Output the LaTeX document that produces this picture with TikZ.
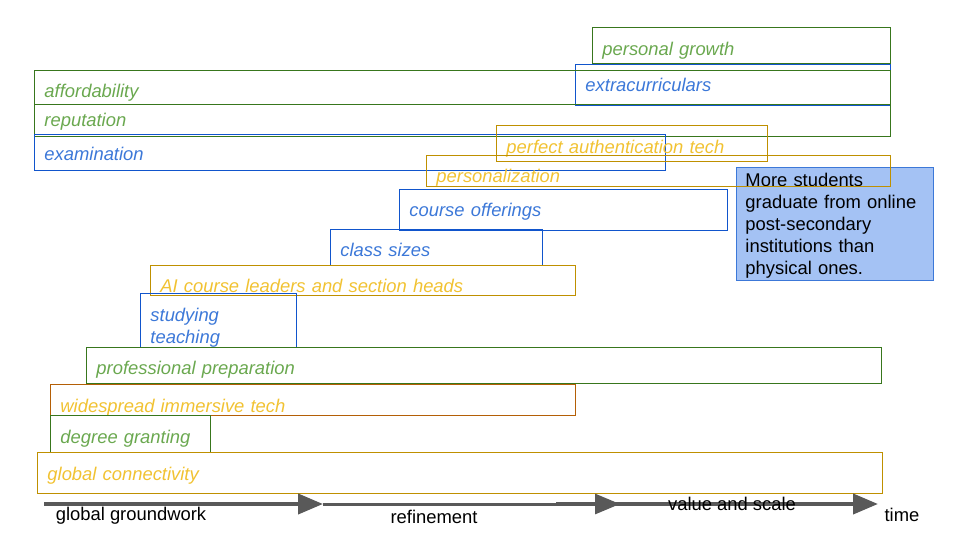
\documentclass[tikz,border=0pt]{standalone}
\usepackage{fontspec}
\setmainfont{Liberation Sans}
\usetikzlibrary{arrows.meta}

\definecolor{grnline}{HTML}{38761D}
\definecolor{grntext}{HTML}{6AA84F}
\definecolor{bluline}{HTML}{1155CC}
\definecolor{blutext}{HTML}{3C78D8}
\definecolor{gldline}{HTML}{BF9000}
\definecolor{gldtext}{HTML}{F1C232}
\definecolor{brnline}{HTML}{B45F06}
\definecolor{notefill}{HTML}{A4C2F4}
\definecolor{arrowgray}{HTML}{595959}

\begin{document}
\begin{tikzpicture}[x=1pt, y=-1pt, >={Triangle[length=25pt,width=20pt]},
	bar/.style={draw, line width=0.9pt, rectangle, anchor=north west, inner xsep=10pt, inner ysep=0pt, text height=27pt, align=left, font=\fontsize{18.4}{22}\selectfont\itshape},
	greenbar/.style={bar, draw=grnline, text=grntext},
	bluebar/.style={bar, draw=bluline, text=blutext},
	goldbar/.style={bar, draw=gldline, text=gldtext},
	brownbar/.style={bar, draw=brnline, text=gldtext},
	note/.style={draw=blutext, fill=notefill, line width=0.9pt, anchor=north west, inner xsep=9pt, inner ysep=0pt, align=left, font=\fontsize{18.4}{22}\selectfont},
	timeline/.style={draw=arrowgray, line width=4pt},
	phase/.style={font=\fontsize{18.4}{20}\selectfont}]
	\useasboundingbox (0,0) rectangle (960,540);

	% Callout
	\node [note, text width=179pt, text height=19pt, text depth=94pt] (result) at (736,167)
		{More students\\graduate from online\\post-secondary\\institutions than\\physical ones.};

	% Bars {top to bottom}
	\node [greenbar, text height=28pt, text depth=8pt, text width=278pt] 	(growth) 	at (592,27) 	{personal growth};
	\node [bluebar, text depth=14pt, text width=295pt] 						(extra) 	at (575,64) 	{extracurriculars};
	\node [greenbar, text depth=7pt, text width=836pt] 						(afford) 	at (34,70) 		{affordability};
	\node [greenbar, text height=22pt, text depth=10pt, text width=836pt] 	(reput) 	at (34,104) 	{reputation};
	\node [bluebar, text height=26pt, text depth=10pt, text width=611pt] 	(exam) 		at (34,134) 	{examination};
	\node [goldbar, text height=28pt, text depth=8pt, text width=251pt] 	(auth) 		at (496,125) 	{perfect authentication tech};
	\node [goldbar, text depth=4pt, text width=444pt] 						(persona) 	at (426,155) 	{personalization};
	\node [bluebar, text depth=14pt, text width=308pt] 						(courses) 	at (399,189) 	{course offerings};
	\node [bluebar, text depth=9pt, text width=192pt] 						(classes) 	at (330,229) 	{class sizes};
	\node [goldbar, text depth=3pt, text width=405pt] 						(aileads) 	at (150,265) 	{AI course leaders and section heads};
	\node [bluebar, text height=28pt, text depth=26pt, text width=136pt] 	(study) 	at (140,293) 	{studying\\teaching};
	\node [greenbar, text depth=9pt, text width=775pt] 						(profprep) 	at (86,347) 	{professional preparation};
	\node [brownbar, text height=28pt, text depth=3pt, text width=505pt] 	(immerse) 	at (50,384) 	{widespread immersive tech};
	\node [greenbar, text height=28pt, text depth=9pt, text width=140pt] 	(degree) 	at (50,415) 	{degree granting};
	\node [goldbar, text height=28pt, text depth=13pt, text width=825pt] 	(connect) 	at (37,452) 	{global connectivity};

	% Time axis
	\coordinate (t0) at (44,504);
	\coordinate (t1) at (323,504);
	\coordinate (t2) at (620,504);
	\coordinate (t2s) at (556,504);
	\coordinate (t3) at (878,504);
	\path [timeline, ->] (t0) -- (t1);
	\path [timeline, ->, line width=3pt] (t1) -- (t2);
	\path [timeline, ->] (t2s) -- (t3);

	% Phase labels
	\node [phase] (ground) 	at (131,516) {global groundwork};
	\node [phase] (refine) 	at (434,517) {refinement};
	\node [phase] (scale) 	at (732,504) {value and scale};
	\node [phase] (time) 	at (902,515) {time};
\end{tikzpicture}
\end{document}
